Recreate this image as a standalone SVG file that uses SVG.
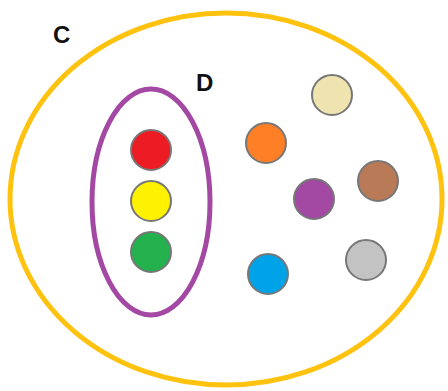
<svg xmlns="http://www.w3.org/2000/svg" width="448" height="391" viewBox="0 0 448 391">
<style>
.lbl{font-family:"Liberation Sans",Arial,sans-serif;font-weight:bold;font-size:24px;fill:#111}
.dot{stroke:#777;stroke-width:2}
</style>
<rect width="448" height="391" fill="#fff"/>
<g id="C">
<ellipse cx="226" cy="199" rx="216" ry="186" fill="none" stroke="#FFC20E" stroke-width="5"/>
<text class="lbl" x="53" y="43">C</text>
</g>
<g id="D">
<ellipse cx="151" cy="202" rx="59" ry="113" fill="none" stroke="#A349A4" stroke-width="5"/>
<text class="lbl" x="196" y="91">D</text>
</g>
<g id="red"><circle class="dot" cx="151" cy="150" r="20" fill="#ED1C24"/></g>
<g id="yellow"><circle class="dot" cx="151" cy="201" r="20" fill="#FFF200"/></g>
<g id="green"><circle class="dot" cx="151" cy="252" r="20" fill="#22B14C"/></g>
<g id="orange"><circle class="dot" cx="266" cy="143" r="20" fill="#FF7F27"/></g>
<g id="beige"><circle class="dot" cx="332" cy="95" r="20" fill="#EFE4B0"/></g>
<g id="purple"><circle class="dot" cx="314" cy="199" r="20" fill="#A349A4"/></g>
<g id="brown"><circle class="dot" cx="378" cy="181" r="20" fill="#B97A57"/></g>
<g id="blue"><circle class="dot" cx="268" cy="274" r="20" fill="#00A2E8"/></g>
<g id="gray"><circle class="dot" cx="366" cy="260" r="20" fill="#C3C3C3"/></g>
<g id="connectors"/>
</svg>
